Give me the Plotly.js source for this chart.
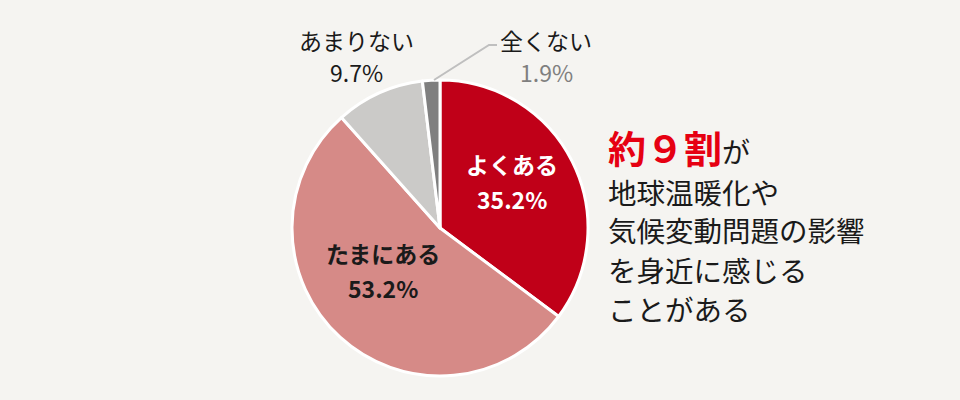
<!DOCTYPE html>
<html>
<head>
<meta charset="utf-8">
<script src="https://cdn.plot.ly/plotly-3.0.1.min.js"></script>
<style>html,body{margin:0;padding:0;background:#f5f4f1;}#chart{width:960px;height:400px;}</style>
</head>
<body>
<div id="chart"></div>
<script>
const labels = ['よくある', 'たまにある', 'あまりない', '全くない'];
const values = [35.2, 53.2, 9.7, 1.9];
const sliceColors = ['#c00018', '#d68a87', '#cbcac8', '#7f7f7f'];
const headline = '約９割';
const headlineTail = 'が';
const bodyLines = ['地球温暖化や', '気候変動問題の影響', 'を身近に感じる', 'ことがある'];

const FONT = '"Noto Sans CJK JP", "Noto Sans", sans-serif';
const W = 960, H = 400;
const px = x => x / W;
const py = y => 1 - y / H;
const pct = v => v.toFixed(1) + '%';

// label placement [x, yName, yValue, color, bold]
const labelPos = [
  [512, 164, 199, '#ffffff', true],
  [383, 253, 288, '#1a1a1a', true],
  [356, 40, 72, '#1a1a1a', false],
  [546, 40, 72, '#1a1a1a', false]
];
const valueColors = ['#ffffff', '#1a1a1a', '#1a1a1a', '#7f7f7f'];

const annotations = [];
labels.forEach((lab, i) => {
  const [x, y1, y2, col, bold] = labelPos[i];
  const wrap = t => bold ? '<b>' + t + '</b>' : t;
  annotations.push({xref: 'paper', yref: 'paper', x: px(x), y: py(y1), xanchor: 'center', yanchor: 'middle',
    text: wrap(lab), showarrow: false, font: {family: FONT, size: 23, color: col}});
  annotations.push({xref: 'paper', yref: 'paper', x: px(x), y: py(y2), xanchor: 'center', yanchor: 'middle',
    text: wrap(pct(values[i])), showarrow: false, font: {family: FONT, size: 23, color: valueColors[i]}});
});

annotations.push({xref: 'paper', yref: 'paper', x: px(606), y: py(147), xanchor: 'left', yanchor: 'middle',
  text: '<span style="color:#e60012;font-size:38px"><b>' + headline + '</b></span>' + headlineTail,
  showarrow: false, font: {family: FONT, size: 28, color: '#1a1a1a'}});
bodyLines.forEach((t, i) => {
  annotations.push({xref: 'paper', yref: 'paper', x: px(606), y: py(191 + i * 39), xanchor: 'left', yanchor: 'middle',
    text: t, showarrow: false, font: {family: FONT, size: 28.5, color: '#1a1a1a'}});
});

const data = [{
  type: 'pie',
  labels: labels,
  values: values,
  sort: false,
  direction: 'clockwise',
  rotation: 0,
  marker: {colors: sliceColors, line: {color: '#ffffff', width: 3}},
  textinfo: 'none',
  hoverinfo: 'none',
  showlegend: false,
  domain: {x: [px(440 - 148), px(440 + 148)], y: [py(228 + 148), py(228 - 148)]}
}];

const layout = {
  width: W, height: H,
  margin: {l: 0, r: 0, t: 0, b: 0},
  paper_bgcolor: '#f5f4f1',
  plot_bgcolor: '#f5f4f1',
  showlegend: false,
  annotations: annotations,
  shapes: [{
    type: 'path', xref: 'paper', yref: 'paper',
    path: 'M ' + px(434) + ',' + py(80) + ' L ' + px(489) + ',' + py(45) + ' L ' + px(497) + ',' + py(45),
    line: {color: '#bfbfbf', width: 2}
  }]
};

Plotly.newPlot('chart', data, layout, {displayModeBar: false, staticPlot: true});
</script>
</body>
</html>
